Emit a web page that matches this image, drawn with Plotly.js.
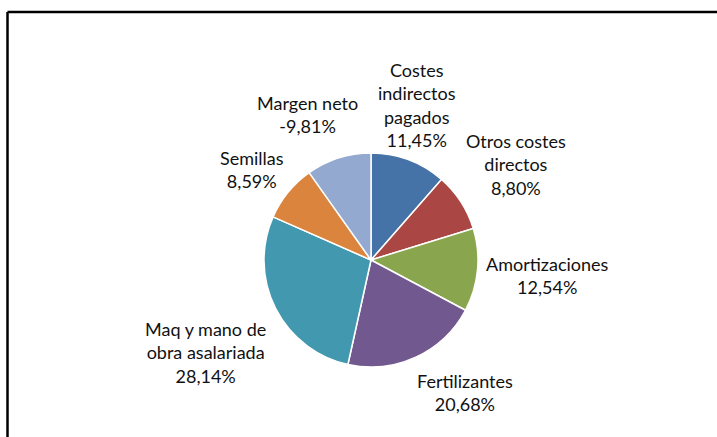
<!DOCTYPE html>
<html>
<head>
<meta charset="utf-8">
<script src="https://cdn.plot.ly/plotly-3.0.1.min.js"></script>
<style>
  html, body { margin: 0; padding: 0; background: #fff; }
  #chart { width: 717px; height: 437px; }
</style>
</head>
<body>
<div id="chart"></div>
<script>
// Datos del gráfico (sentido horario desde las 12)
const categories = [
    'Costes<br>indirectos<br>pagados',
    'Otros costes<br>directos',
    'Amortizaciones',
    'Fertilizantes',
    'Maq y mano de<br>obra asalariada',
    'Semillas',
    'Margen neto'
];
const percents = [11.45, 8.80, 12.54, 20.68, 28.14, 8.59, -9.81];
const sliceColors = ['#4572A7', '#AA4643', '#89A54E', '#71588F', '#4198AF', '#DB843D', '#93A9CF'];

// Posición de cada etiqueta (px dentro de la imagen)
const labelPos = [
    [417, 105], [516, 164], [547, 275], [465, 392],
    [206, 352], [252, 169], [307, 114]
];

const W = 717, H = 437;
const cx = 371, cy = 260, r = 107;

function fmt(v) {
    return v.toFixed(2).replace('.', ',') + '%';
}

const trace = {
    type: 'pie',
    labels: categories,
    values: percents.map(v => Math.abs(v)),
    sort: false,
    direction: 'clockwise',
    rotation: 0,
    textinfo: 'none',
    hoverinfo: 'label+value',
    marker: {
        colors: sliceColors,
        line: { color: '#ffffff', width: 1.5 }
    },
    domain: {
        x: [(cx - r) / W, (cx + r) / W],
        y: [(H - cy - r) / H, (H - cy + r) / H]
    }
};

// Etiquetas de datos
const annotations = categories.map((c, i) => ({
    xref: 'paper',
    yref: 'paper',
    x: labelPos[i][0] / W,
    y: 1 - labelPos[i][1] / H,
    xanchor: 'center',
    yanchor: 'middle',
    align: 'center',
    showarrow: false,
    text: c + '<br>' + fmt(percents[i]),
    font: { family: 'Lato, "Liberation Sans", sans-serif', size: 18, color: '#111111' }
}));

const layout = {
    width: W,
    height: H,
    margin: { l: 0, r: 0, t: 0, b: 0 },
    paper_bgcolor: '#ffffff',
    showlegend: false,
    annotations: annotations,
    shapes: [
        // borde del gráfico (solo arriba e izquierda visibles)
        { type: 'line', xref: 'paper', yref: 'paper', x0: 7.5 / W, x1: 1, y0: 1 - 12 / H, y1: 1 - 12 / H, line: { color: '#000', width: 2.5 } },
        { type: 'line', xref: 'paper', yref: 'paper', x0: 7.5 / W, x1: 7.5 / W, y0: 0, y1: 1 - 12 / H, line: { color: '#000', width: 2.5 } }
    ]
};

Plotly.newPlot('chart', [trace], layout, { displayModeBar: false, staticPlot: true });
</script>
</body>
</html>
